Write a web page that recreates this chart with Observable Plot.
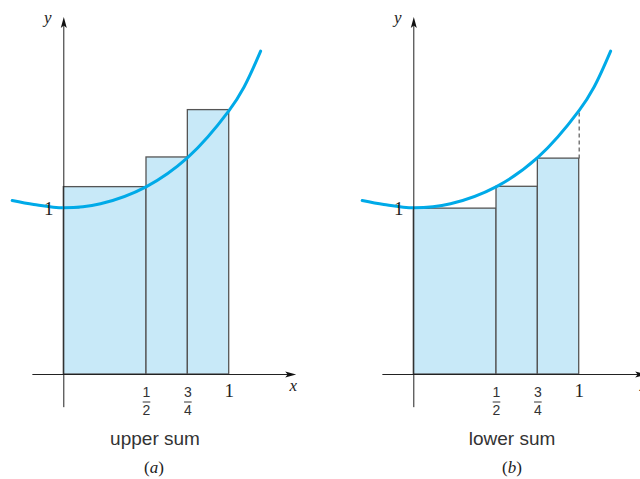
<!DOCTYPE html>
<html><head><meta charset="utf-8">
<script src="https://cdn.jsdelivr.net/npm/d3@7"></script>
<script src="https://cdn.jsdelivr.net/npm/@observablehq/plot@0.6"></script>
<style>
html,body{margin:0;padding:0;background:#fff;width:640px;height:479px;overflow:hidden;position:relative;}
.panel{position:absolute;top:0;width:310px;height:479px;}
.panel svg{max-width:none !important;}
.cap{position:absolute;transform:translate(-50%,-50%);white-space:nowrap;}
.sum{font-family:"Liberation Sans",Arial,sans-serif;font-size:19px;color:#333;}
.lab{font-family:"Liberation Serif",serif;font-size:17px;color:#222;}
</style></head><body>
<div id="a" class="panel" style="left:0"></div>
<div id="b" class="panel" style="left:350px"></div>
<div class="cap sum" style="left:155px;top:439px">upper sum</div>
<div class="cap lab" style="left:154px;top:468px">(<i>a</i>)</div>
<div class="cap sum" style="left:512px;top:439px">lower sum</div>
<div class="cap lab" style="left:512px;top:468px">(<i>b</i>)</div>
<script>
// partition points and rectangle heights
const partition = [0, 0.5, 0.75, 1];
const upperHeights = [1.124, 1.302, 1.586];
const lowerHeights = [0.995, 1.126, 1.295];
// curve samples
const curveX = [-0.312, -0.181, 0, 0.222, 0.5, 0.75, 1, 1.09, 1.19];
const curveY = [1.044, 1.020, 1.0, 1.024, 1.127, 1.302, 1.584, 1.725, 1.94];
// tick labels
const fracX = [0.5, 0.75];
const fracNum = ["1", "3"];
const fracDen = ["2", "4"];
const wholeX = [1];
const wholeLabel = ["1"];
const yTickVals = [1];
const yTickLabel = ["1"];
// axis extents
const xAxisExtent = [-0.19, 1.405];
const yAxisExtent = [-0.196, 2.145];

const arrowUp = {draw(ctx){ctx.moveTo(0,0);ctx.lineTo(3,11);ctx.lineTo(0,8.5);ctx.lineTo(-3,11);ctx.closePath();}};
const arrowRight = {draw(ctx){ctx.moveTo(0,0);ctx.lineTo(-11,-3);ctx.lineTo(-8.5,0);ctx.lineTo(-11,3);ctx.closePath();}};
const barSym = {draw(ctx){ctx.moveTo(-3.8,0);ctx.lineTo(3.8,0);}};

const curveData = curveX.map((x,i)=>({x, y: curveY[i]}));

function panel(heights, lower) {
  const rects = heights.map((h,i)=>({x1: partition[i], x2: partition[i+1], h}));
  const marks = [
    Plot.rect(rects, {x1:"x1", x2:"x2", y1:0, y2:"h", fill:"#c8e9f8", stroke:"#555", strokeWidth:1.3}),
    Plot.link(yTickVals, {x1:0, x2:0.095, y1:d=>d, y2:d=>d, stroke:"#333", strokeWidth:1})
  ];
  if (lower) {
    const last = rects[rects.length-1];
    const fEnd = curveY[curveX.indexOf(1)];
    marks.push(Plot.link([last], {x1:"x2", x2:"x2", y1:"h", y2:()=>fEnd, stroke:"#666", strokeWidth:1.3, strokeDasharray:"4,3"}));
  }
  marks.push(
    Plot.line(curveData, {x:"x", y:"y", curve:"catmull-rom", stroke:"#00aae8", strokeWidth:3}),
    Plot.link([0], {x1:xAxisExtent[0], x2:xAxisExtent[1]-0.03, y1:0, y2:0, stroke:"#222", strokeWidth:1}),
    Plot.link([0], {x1:0, x2:0, y1:yAxisExtent[0], y2:yAxisExtent[1]-0.03, stroke:"#222", strokeWidth:1}),
    Plot.dot([0], {x:0, y:yAxisExtent[1], symbol:arrowUp, r:5, fill:"#111", stroke:"none"}),
    Plot.dot([0], {x:xAxisExtent[1], y:0, symbol:arrowRight, r:5, fill:"#111", stroke:"none"}),
    Plot.text(["y"], {x:0, y:yAxisExtent[1], text:d=>d, dx:-16, dy:1, fontSize:17, fontStyle:"italic", fontFamily:"Liberation Serif", fill:"#222"}),
    Plot.text(["x"], {x:xAxisExtent[1], y:0, text:d=>d, dx:-3, dy:11, fontSize:17, fontStyle:"italic", fontFamily:"Liberation Serif", fill:"#222"}),
    Plot.text(yTickVals, {x:0, y:d=>d, text:(d,i)=>yTickLabel[i], dx:-15, dy:1, fontSize:19, fontFamily:"Liberation Serif", fill:"#222"}),
    Plot.text(wholeX, {x:d=>d, y:0, text:(d,i)=>wholeLabel[i], dy:16, fontSize:19, fontFamily:"Liberation Serif", fill:"#222"}),
    Plot.text(fracX, {x:d=>d, y:0, text:(d,i)=>fracNum[i], dy:18.5, fontSize:14, fontFamily:"Liberation Sans", fill:"#333"}),
    Plot.text(fracX, {x:d=>d, y:0, text:(d,i)=>fracDen[i], dy:36, fontSize:14, fontFamily:"Liberation Sans", fill:"#333"}),
    Plot.dot(fracX, {x:d=>d, y:0, dy:27.5, symbol:barSym, r:4, stroke:"#333", strokeWidth:1, fill:"none"})
  );
  return Plot.plot({
    width: 310, height: 479,
    margin: 0,
    x: {domain:[0,1], range:[63.3, 228.7], axis:null},
    y: {domain:[0,1], range:[374, 207.3], axis:null},
    style: {background:"transparent", overflow:"visible", maxWidth:"none"},
    marks
  });
}

document.getElementById("a").appendChild(panel(upperHeights, false));
document.getElementById("b").appendChild(panel(lowerHeights, true));
</script>
</body></html>
